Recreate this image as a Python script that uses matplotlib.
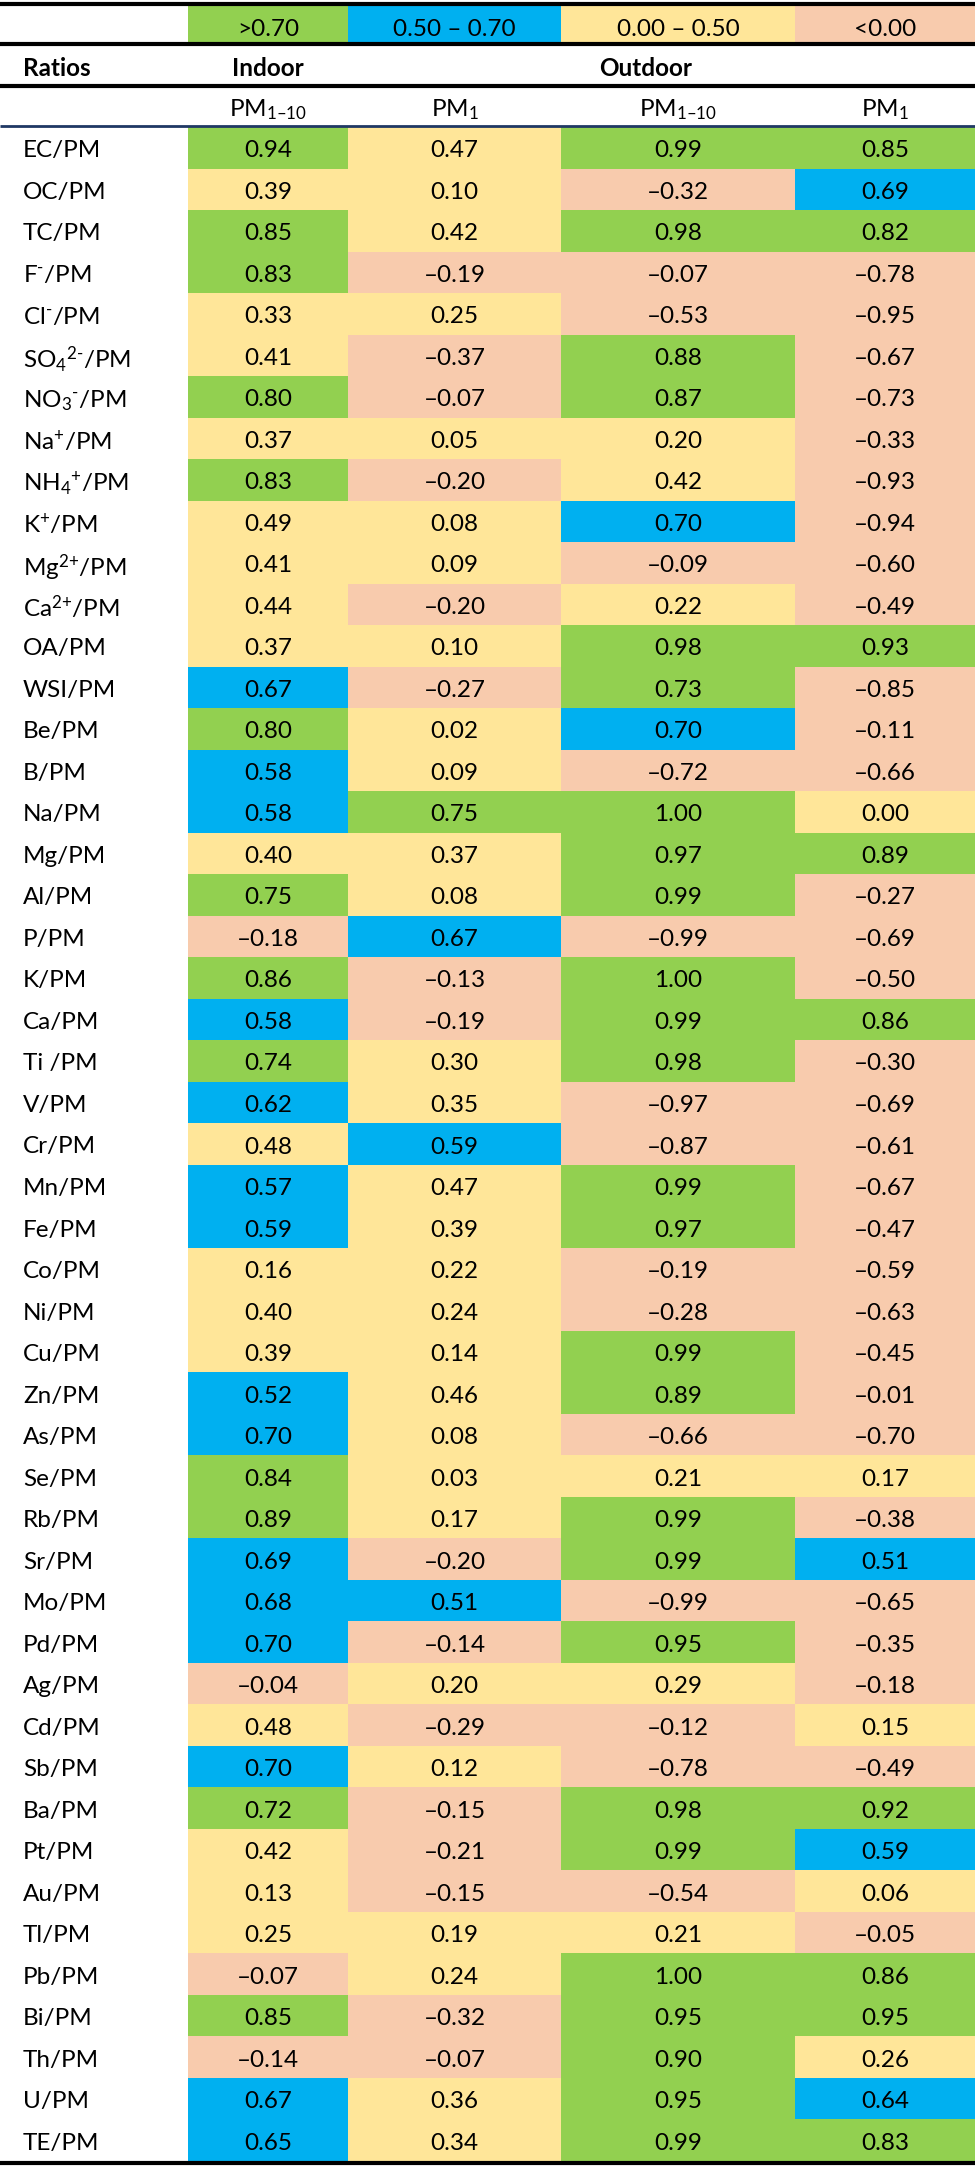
import matplotlib
matplotlib.use("Agg")
import matplotlib.pyplot as plt
from matplotlib.patches import Rectangle

plt.rcParams["font.family"] = ["Lato", "DejaVu Sans"]
plt.rcParams["mathtext.fontset"] = "custom"
plt.rcParams["mathtext.rm"] = "Lato"
plt.rcParams["mathtext.it"] = "Lato"
plt.rcParams["mathtext.bf"] = "Lato:bold"

# ---- data ----
ratios = [
    "EC/PM", "OC/PM", "TC/PM", r"F$^{\text{-}}$/PM", r"Cl$^{\text{-}}$/PM",
    r"SO$_{\text{4}}$$^{\text{2-}}$/PM", r"NO$_{\text{3}}$$^{\text{-}}$/PM",
    r"Na$^{\text{+}}$/PM", r"NH$_{\text{4}}$$^{\text{+}}$/PM", r"K$^{\text{+}}$/PM",
    r"Mg$^{\text{2+}}$/PM", r"Ca$^{\text{2+}}$/PM", "OA/PM", "WSI/PM", "Be/PM", "B/PM",
    "Na/PM", "Mg/PM", "Al/PM", "P/PM", "K/PM", "Ca/PM", "Ti /PM", "V/PM", "Cr/PM",
    "Mn/PM", "Fe/PM", "Co/PM", "Ni/PM", "Cu/PM", "Zn/PM", "As/PM", "Se/PM", "Rb/PM",
    "Sr/PM", "Mo/PM", "Pd/PM", "Ag/PM", "Cd/PM", "Sb/PM", "Ba/PM", "Pt/PM", "Au/PM",
    "Tl/PM", "Pb/PM", "Bi/PM", "Th/PM", "U/PM", "TE/PM",
]
indoor_pm110 = [
    0.94, 0.39, 0.85, 0.83, 0.33, 0.41, 0.80, 0.37, 0.83, 0.49, 0.41, 0.44, 0.37,
    0.67, 0.80, 0.58, 0.58, 0.40, 0.75, -0.18, 0.86, 0.58, 0.74, 0.62, 0.48, 0.57,
    0.59, 0.16, 0.40, 0.39, 0.52, 0.70, 0.84, 0.89, 0.69, 0.68, 0.70, -0.04, 0.48,
    0.70, 0.72, 0.42, 0.13, 0.25, -0.07, 0.85, -0.14, 0.67, 0.65,
]
indoor_pm1 = [
    0.47, 0.10, 0.42, -0.19, 0.25, -0.37, -0.07, 0.05, -0.20, 0.08, 0.09, -0.20, 0.10,
    -0.27, 0.02, 0.09, 0.75, 0.37, 0.08, 0.67, -0.13, -0.19, 0.30, 0.35, 0.59, 0.47,
    0.39, 0.22, 0.24, 0.14, 0.46, 0.08, 0.03, 0.17, -0.20, 0.51, -0.14, 0.20, -0.29,
    0.12, -0.15, -0.21, -0.15, 0.19, 0.24, -0.32, -0.07, 0.36, 0.34,
]
outdoor_pm110 = [
    0.99, -0.32, 0.98, -0.07, -0.53, 0.88, 0.87, 0.20, 0.42, 0.70, -0.09, 0.22, 0.98,
    0.73, 0.70, -0.72, 1.00, 0.97, 0.99, -0.99, 1.00, 0.99, 0.98, -0.97, -0.87, 0.99,
    0.97, -0.19, -0.28, 0.99, 0.89, -0.66, 0.21, 0.99, 0.99, -0.99, 0.95, 0.29, -0.12,
    -0.78, 0.98, 0.99, -0.54, 0.21, 1.00, 0.95, 0.90, 0.95, 0.99,
]
outdoor_pm1 = [
    0.85, 0.69, 0.82, -0.78, -0.95, -0.67, -0.73, -0.33, -0.93, -0.94, -0.60, -0.49, 0.93,
    -0.85, -0.11, -0.66, 0.00, 0.89, -0.27, -0.69, -0.50, 0.86, -0.30, -0.69, -0.61, -0.67,
    -0.47, -0.59, -0.63, -0.45, -0.01, -0.70, 0.17, -0.38, 0.51, -0.65, -0.35, -0.18, 0.15,
    -0.49, 0.92, 0.59, 0.06, -0.05, 0.86, 0.95, 0.26, 0.64, 0.83,
]
legend_labels = [">0.70", "0.50 \u2013 0.70", "0.00 \u2013 0.50", "<0.00"]
legend_colors = ["#92D050", "#00B0F0", "#FFE699", "#F8CBAD"]
sub_headers = ["PM$_{\\text{1\u201310}}$", "PM$_{\\text{1}}$",
               "PM$_{\\text{1\u201310}}$", "PM$_{\\text{1}}$"]


def cell_color(v):
    if v > 0.70:
        return legend_colors[0]
    if v >= 0.50:
        return legend_colors[1]
    if v >= 0.0:
        return legend_colors[2]
    return legend_colors[3]


def fmt(v):
    s = f"{abs(v):.2f}"
    return ("\u2013" + s) if v < 0 else s


# ---- layout (pixel units) ----
W, H = 975, 2168
col_edges = [188, 348, 561, 795, 975]
label_x = 23
data_top, data_bot = 127, 2161
fs = 17.5

fig = plt.figure(figsize=(W / 100, H / 100), dpi=100)
ax = fig.add_axes([0, 0, 1, 1])
ax.set_xlim(0, W)
ax.set_ylim(H, 0)
ax.axis("off")

# legend row
for i, (lab, col) in enumerate(zip(legend_labels, legend_colors)):
    x0, x1 = col_edges[i], col_edges[i + 1]
    ax.add_patch(Rectangle((x0, 5), x1 - x0, 38, color=col, lw=0))
    ax.text((x0 + x1) / 2, 27, lab, ha="center", va="center_baseline", fontsize=fs)

# header rows
ax.text(label_x, 66, "Ratios", ha="left", va="center_baseline", fontsize=fs,
        fontweight="bold")
ax.text((col_edges[0] + col_edges[1]) / 2, 66, "Indoor", ha="center",
        va="center_baseline", fontsize=fs, fontweight="bold")
ax.text(646, 66, "Outdoor", ha="center", va="center_baseline", fontsize=fs,
        fontweight="bold")
for i, sh in enumerate(sub_headers):
    ax.text((col_edges[i] + col_edges[i + 1]) / 2, 107, sh, ha="center",
            va="center_baseline", fontsize=fs)

# data rows
columns = [indoor_pm110, indoor_pm1, outdoor_pm110, outdoor_pm1]
n = len(ratios)
rh = (data_bot - data_top) / n
for r, lab in enumerate(ratios):
    y0 = data_top + r * rh
    yc = y0 + rh / 2 + 1
    ax.text(label_x, yc, lab, ha="left", va="center_baseline", fontsize=fs)
    for c, vals in enumerate(columns):
        x0, x1 = col_edges[c], col_edges[c + 1]
        v = vals[r]
        ax.add_patch(Rectangle((x0, y0), x1 - x0, rh + 0.6, color=cell_color(v), lw=0))
        ax.text((x0 + x1) / 2, yc, fmt(v), ha="center", va="center_baseline", fontsize=fs)

# rules
for y, lw, colr in [(4, 3.0, "black"), (44, 3.0, "black"), (86, 3.0, "black"),
                    (126, 2.0, "#1F3864"), (2163, 3.0, "black")]:
    ax.plot([0, W], [y, y], color=colr, lw=lw, solid_capstyle="butt")

fig.savefig("out.png", dpi=100)
